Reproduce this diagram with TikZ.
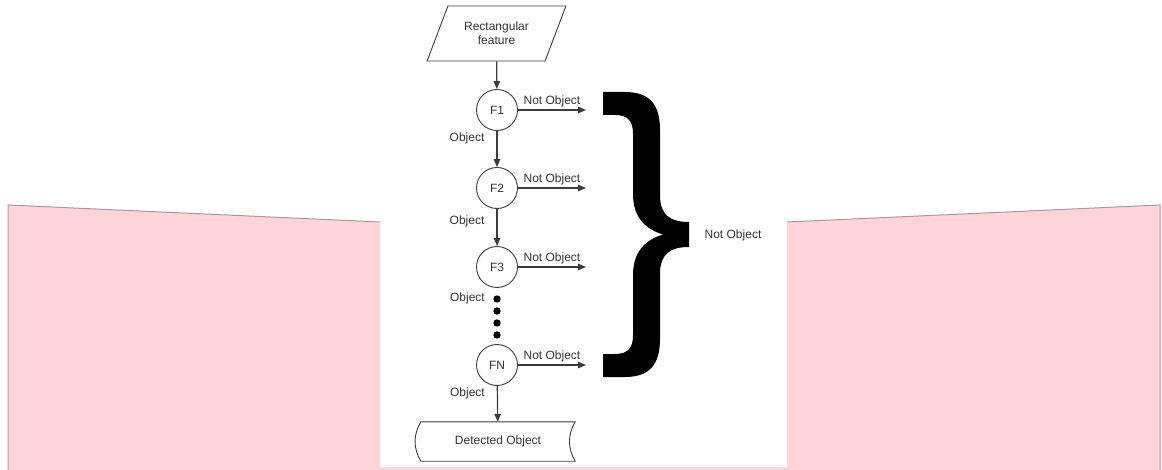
\documentclass[tikz,border=0pt]{standalone}
\usepackage{fontspec}
\setmainfont{Liberation Sans}
\usetikzlibrary{shapes.geometric,arrows.meta,positioning}
\definecolor{linegray}{HTML}{3C3C3C}
\definecolor{textgray}{HTML}{333333}
\definecolor{paperpink}{HTML}{FFD5D9}
\definecolor{edgegray}{HTML}{A89A9C}
\begin{document}
\begin{tikzpicture}[x=1pt, y=-1pt,
    font=\fontsize{12}{14}\selectfont, text=textgray,
    test/.style={draw=linegray, circle, minimum size=41pt, inner sep=0pt, line width=0.9pt},
    flow/.style={draw=linegray, line width=1.2pt, -{Triangle[length=8pt,width=6.5pt]}},
    lbl/.style={inner sep=1pt}]
  \useasboundingbox (0,0) rectangle (1162,470);

  % pink paper behind
  \fill[paperpink] (8,205) -- (380,222) -- (380,470) -- (8,470) -- cycle;
  \fill[paperpink] (787,222) -- (1160,205) -- (1160,470) -- (787,470) -- cycle;
  \fill[paperpink] (380,467) rectangle (787,470);
  \draw[edgegray, line width=1pt] (8,470) -- (8,205) -- (380,222);
  \draw[edgegray, line width=1pt] (787,222) -- (1160,205) -- (1160,470);

  \node[draw=linegray, trapezium, trapezium left angle=62.6, trapezium right angle=117.4,
        trapezium stretches=true, minimum width=139pt, minimum height=55pt,
        align=center, line width=0.9pt] (feat) at (496.5,33.5) {Rectangular\\feature};
  \node[test] (F1) at (497,110) {F1};
  \node[test] (F2) at (497,188) {F2};
  \node[test] (F3) at (497,267) {F3};
  \node[test] (FN) at (497,365) {FN};
  \node[minimum width=154pt, minimum height=39pt] (det) at (498,441.5) {Detected Object};
  \draw[linegray, line width=0.9pt] (det.north west) -- (det.north east)
    to[bend right=30] (det.south east) -- (det.south west) to[bend left=30] (det.north west);

  \coordinate (n1) at (586,110);
  \coordinate (n2) at (586,188);
  \coordinate (n3) at (586,267);
  \coordinate (n4) at (586,365);

  \draw[flow] (feat) -- (F1);
  \draw[flow] (F1) -- node[lbl, pos=0.2, left=11pt] {Object} (F2);
  \draw[flow] (F2) -- node[lbl, pos=0.33, left=11pt] {Object} (F3);
  \draw[flow] (FN) -- node[lbl, pos=0.2, left=11pt] {Object} (det);
  \node[lbl, anchor=east] (obj3) at (486,298) {Object};

  \draw[flow] (F1) -- node[lbl, above=1pt] {Not Object} (n1);
  \draw[flow] (F2) -- node[lbl, above=1pt] {Not Object} (n2);
  \draw[flow] (F3) -- node[lbl, above=1pt] {Not Object} (n3);
  \draw[flow] (FN) -- node[lbl, above=1pt] {Not Object} (n4);

  \foreach \y in {299,311,323,335}
    \fill[black] (497,\y) circle (3.7);

  % the big brace
  \fill[black] (603,92) -- (625,92) .. controls (650,92) and (660,105) .. (660,130)
    -- (660,195) .. controls (660,215) and (670,222) .. (689,222)
    -- (689,247) .. controls (670,247) and (660,254) .. (660,274)
    -- (660,339) .. controls (660,364) and (650,377) .. (625,377)
    -- (603,377) -- (603,354) -- (615,354) .. controls (628,354) and (633,348) .. (633,335)
    -- (633,275) .. controls (633,252) and (645,240) .. (663,234.5)
    .. controls (645,229) and (633,217) .. (633,194)
    -- (633,134) .. controls (633,121) and (628,115) .. (615,115) -- (603,115) -- cycle;
  \node (brlbl) at (733,235) {Not Object};
\end{tikzpicture}
\end{document}
